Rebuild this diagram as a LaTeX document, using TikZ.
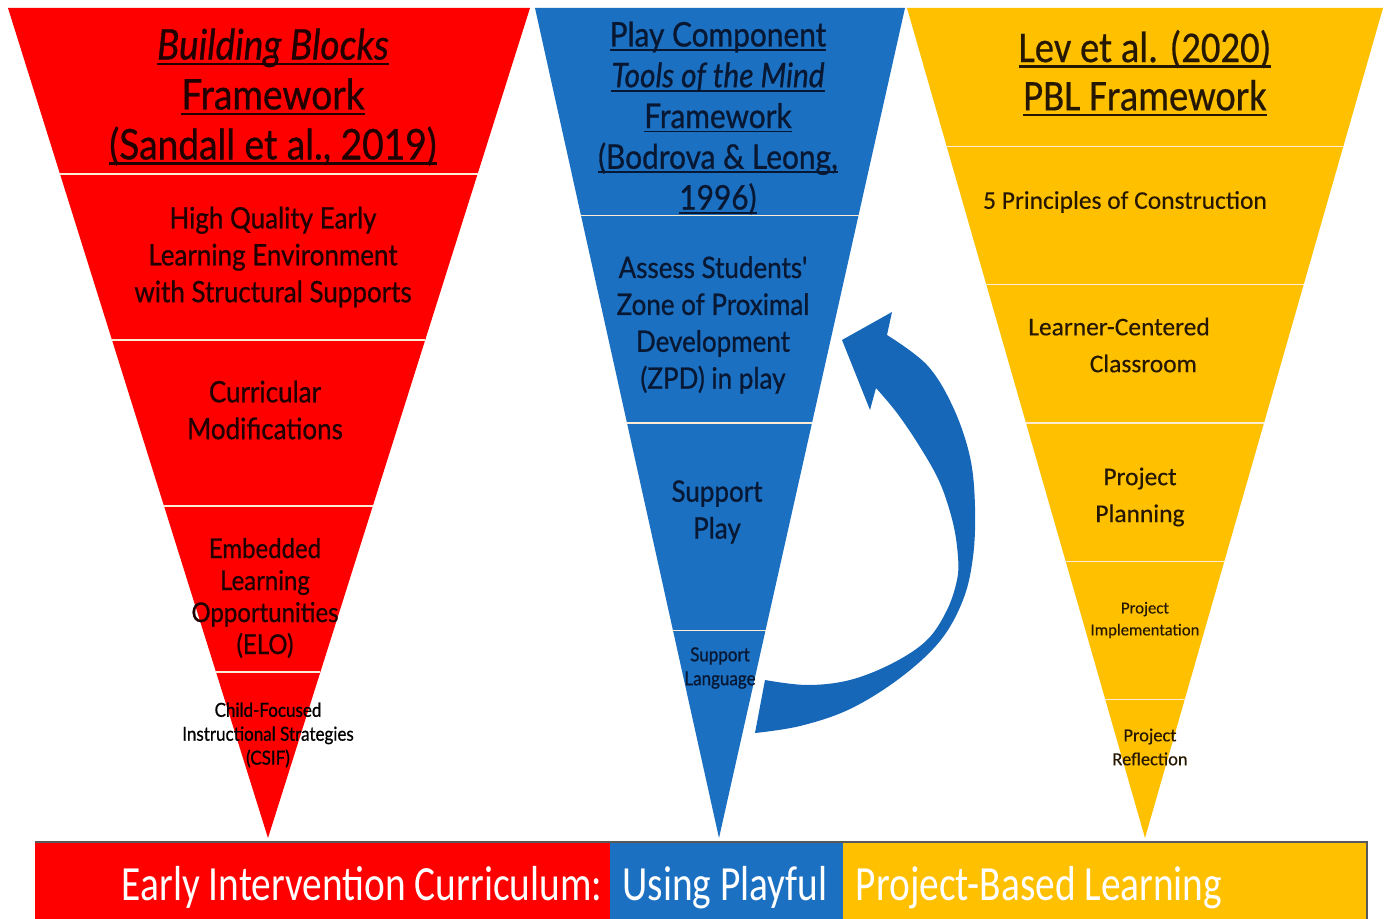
\documentclass[tikz,border=0pt]{standalone}
\usepackage{fontspec}
\usetikzlibrary{calc}
\newfontfamily\boxfont[FakeStretch=0.88, FakeBold=0.8]{Lato}
\newfontfamily\calfont[FakeBold=0.3]{Carlito}
\newfontfamily\calhead[FakeStretch=0.88, FakeBold=0.5]{Carlito}
\newfontfamily\bandfont[FakeStretch=0.8]{Carlito}
\definecolor{bbred}{HTML}{FF0000}
\definecolor{toolsblue}{HTML}{1B70C2}
\definecolor{arcblue}{HTML}{1767B9}
\definecolor{pblgold}{HTML}{FFC000}
\definecolor{inkred}{HTML}{220000}
\definecolor{inkblue}{HTML}{081833}
\definecolor{inkgold}{HTML}{261800}
\definecolor{sepline}{HTML}{FDEBD3}
\newcommand\undl[1]{\setbox0\hbox{#1}\rlap{\rule[-0.13em]{\wd0}{0.055em}}\box0}

\begin{document}
\begin{tikzpicture}[
  x=0.02cm, y=-0.02cm,
  lvl/.style={inner sep=0pt, align=center},
  bbtxt/.style={lvl, text=inkred, font=\boxfont\fontsize{16.8}{21}\selectfont},
  toolstxt/.style={lvl, text=inkblue, font=\boxfont\fontsize{16.8}{21}\selectfont},
  pbltxt/.style={lvl, text=inkgold, font=\calfont\fontsize{14.5}{21}\selectfont},
  small/.style={font=\boxfont\fontsize{11}{13.6}\selectfont},
  sep/.style={draw=sepline, line width=0.9pt},
  band/.style={inner sep=0pt, anchor=base, text=white, font=\bandfont\fontsize{28}{30}\selectfont}
]
  \useasboundingbox (0,0) rectangle (1387,919);

  \coordinate (bbL) at (8,8);
  \coordinate (bbR) at (530,8);
  \coordinate (bbTip) at (268,838);
  \coordinate (toolsL) at (535,8);
  \coordinate (toolsR) at (905,8);
  \coordinate (toolsTip) at (719,838);
  \coordinate (pblL) at (907,8);
  \coordinate (pblR) at (1383,8);
  \coordinate (pblTip) at (1145,838);

  \fill[bbred] (bbL) -- (bbR) -- (bbTip) -- cycle;
  \fill[toolsblue] (toolsL) -- (toolsR) -- (toolsTip) -- cycle;
  \fill[pblgold] (pblL) -- (pblR) -- (pblTip) -- cycle;

  \foreach \t in {0.2,0.4,0.6,0.8}
    \draw[sep] ($(bbL)!\t!(bbTip)$) -- ($(bbR)!\t!(bbTip)$);
  \foreach \t in {0.25,0.5,0.75}
    \draw[sep] ($(toolsL)!\t!(toolsTip)$) -- ($(toolsR)!\t!(toolsTip)$);
  \foreach \i in {1,...,5}
    \draw[sep] ($(pblL)!{\i/6}!(pblTip)$) -- ($(pblR)!{\i/6}!(pblTip)$);

  \node[bbtxt, font=\boxfont\fontsize{24}{28.4}\selectfont] (bbHead) at (273,97)
    {\undl{\itshape Building Blocks}\\\undl{Framework}\\\undl{(Sandall et al., 2019)}};
  \node[bbtxt] (bbEnv) at (273,257) {High Quality Early\\Learning Environment\\with Structural Supports};
  \node[bbtxt] (bbMod) at (265,410) {Curricular\\Modifications};
  \node[bbtxt, font=\boxfont\fontsize{15.5}{18.2}\selectfont] (bbElo) at (265,598) {Embedded\\Learning\\Opportunities\\(ELO)};
  \node[bbtxt, small, text=black] (bbCsif) at (268,735) {Child-Focused\\Instructional Strategies\\(CSIF)};

  \node[toolstxt, font=\boxfont\fontsize{19.3}{23.2}\selectfont] (toolsHead) at (718,118)
    {\undl{Play Component}\\\undl{\itshape Tools of the Mind}\\\undl{Framework}\\\undl{(Bodrova \& Leong,}\\\undl{1996)}};
  \node[toolstxt] (toolsZpd) at (713,325) {Assess Students'\\Zone of Proximal\\Development\\(ZPD) in play};
  \node[toolstxt] (toolsPlay) at (717,512) {Support\\Play};
  \node[toolstxt, small] (toolsLang) at (720,668) {Support\\Language};

  \node[pbltxt, font=\calhead\fontsize{25}{27.5}\selectfont] (pblHead) at (1145,73)
    {\undl{Lev et al. (2020)}\\\undl{PBL Framework}};
  \node[pbltxt] (pblPrin) at (1125,202) {5 Principles of Construction};
  \node[pbltxt, align=left] (pblClass) at (1119,345) {Learner-Centered\\\hspace*{35pt}Classroom};
  \node[pbltxt] (pblPlan) at (1140,497) {Project\\Planning};
  \node[pbltxt, font=\calfont\fontsize{9.5}{12.5}\selectfont] (pblImpl) at (1145,620) {Project\\Implementation};
  \node[pbltxt, font=\calfont\fontsize{10.5}{13.6}\selectfont] (pblRefl) at (1150,747) {Project\\Reflection};

  % loop arrow from the language band back up to the ZPD band
  \fill[arcblue] plot[smooth, tension=0.6] coordinates {(755,733) (800,726) (850,709) (900,678)
      (940,641) (963,600) (973,557) (975,507) (970,457) (953,407) (927,365) (887,335)}
    -- (892,312) -- (842,340) -- (870,410)
    -- plot[smooth, tension=0.6] coordinates {(876,388) (897,413) (920,447) (940,483) (953,523)
      (958,557) (957,580) (947,610) (927,640) (893,663) (850,680) (807,685) (765,680)}
    -- cycle;

  \fill[bbred] (35,842) rectangle (610,919);
  \fill[toolsblue] (610,842) rectangle (843,919);
  \fill[pblgold] (843,842) rectangle (1367,919);
  \draw[black!65, line width=0.6pt] (35,842) -- (1367,842) -- (1367,919);
  \node[band] (bandEI) at (362,900) {Early Intervention Curriculum:};
  \node[band] (bandPlay) at (725,900) {Using Playful};
  \node[band] (bandPBL) at (1039,900) {Project-Based Learning};
\end{tikzpicture}
\end{document}
